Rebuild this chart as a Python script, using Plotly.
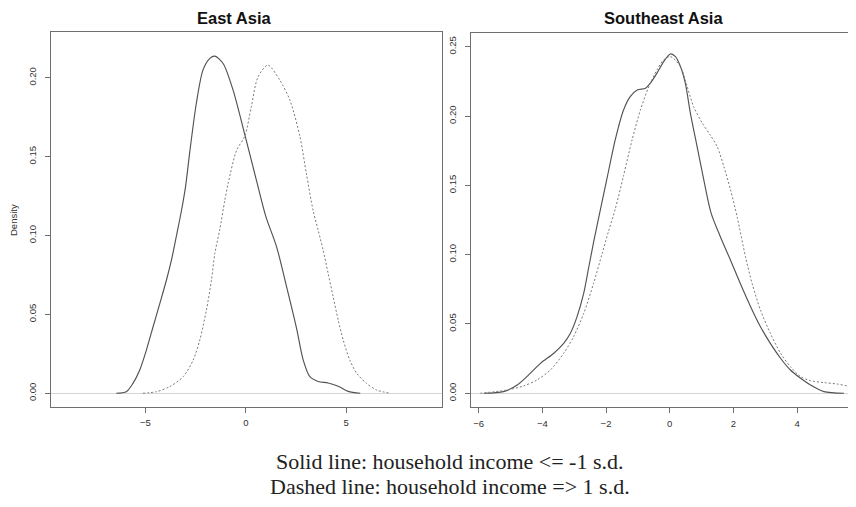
import plotly.graph_objects as go

# ---- East Asia: solid = household income <= -1 s.d., dashed = income => 1 s.d.
ea_low_x = [-6.45, -5.95, -5.62, -5.28, -4.95, -4.62, -4.28, -3.95, -3.70, -3.45, -3.20, -3.00,
            -2.79, -2.46, -2.13, -1.79, -1.54, -1.13, -0.63, -0.05, 0.53, 1.00, 1.53, 2.03,
            2.53, 2.86, 3.19, 3.60, 4.10, 4.60, 5.10, 5.70]
ea_low_y = [0.0, 0.001, 0.0063, 0.0148, 0.0274, 0.042, 0.057, 0.0718, 0.0845, 0.100, 0.116, 0.131,
            0.153, 0.184, 0.205, 0.2123, 0.2137, 0.209, 0.192, 0.164, 0.135, 0.112, 0.093, 0.0676,
            0.041, 0.021, 0.0105, 0.0075, 0.0065, 0.0045, 0.0012, 0.0]

ea_high_x = [-5.12, -4.45, -3.79, -3.12, -2.62, -2.29, -1.96, -1.71, -1.54, -1.30, -1.05, -0.88,
             -0.46, -0.05, 0.28, 0.61, 1.10, 1.69, 2.19, 2.69, 3.02, 3.35, 3.60, 3.85, 4.10,
             4.35, 4.60, 4.85, 5.18, 5.52, 6.01, 6.51, 7.20]
ea_high_y = [0.0, 0.001, 0.0042, 0.0105, 0.021, 0.0338, 0.0528, 0.0718, 0.0887, 0.1035, 0.122, 0.133,
             0.154, 0.163, 0.182, 0.2006, 0.208, 0.1985, 0.186, 0.163, 0.139, 0.116, 0.1035, 0.0908, 0.076,
             0.0612, 0.0464, 0.0338, 0.021, 0.0127, 0.0063, 0.0021, 0.0]

# ---- Southeast Asia
sea_low_x = [-5.84, -5.22, -4.79, -4.38, -4.06, -3.64, -3.33, -3.12, -2.91, -2.70, -2.54, -2.39,
             -2.20, -1.97, -1.71, -1.45, -1.24, -1.02, -0.76, -0.61, -0.40, -0.19, 0.02, 0.18,
             0.34, 0.49, 0.65, 0.86, 1.07, 1.30, 1.59, 1.91, 2.22, 2.54, 2.85, 3.16, 3.48,
             3.79, 4.11, 4.42, 4.84, 5.47]
sea_low_y = [0.0, 0.0012, 0.006, 0.0144, 0.0216, 0.0289, 0.036, 0.0433, 0.0553, 0.0722, 0.0913, 0.109,
             0.130, 0.155, 0.183, 0.2044, 0.214, 0.2188, 0.220, 0.2237, 0.231, 0.2393, 0.2448, 0.2429,
             0.2356, 0.2237, 0.202, 0.178, 0.154, 0.130, 0.113, 0.096, 0.079, 0.0625, 0.048, 0.036, 0.0253,
             0.0168, 0.0108, 0.006, 0.0012, 0.0]

sea_high_x = [-5.95, -5.11, -4.59, -4.17, -3.75, -3.33, -3.02, -2.70, -2.39, -2.12, -1.92, -1.71,
              -1.45, -1.18, -0.92, -0.66, -0.40, -0.19, 0.02, 0.34, 0.55, 0.75, 1.02, 1.28,
              1.49, 1.70, 1.91, 2.12, 2.38, 2.59, 2.85, 3.16, 3.48, 3.79, 4.11, 4.42, 4.84,
              5.26, 5.57, 5.90]
sea_high_y = [0.0, 0.0024, 0.0053, 0.0096, 0.0168, 0.0289, 0.0408, 0.0577, 0.0794, 0.101, 0.117, 0.133,
              0.157, 0.183, 0.2044, 0.221, 0.2333, 0.2405, 0.2429, 0.2356, 0.221, 0.2068, 0.195, 0.186,
              0.178, 0.1635, 0.1467, 0.127, 0.0985, 0.079, 0.060, 0.0433, 0.0289, 0.0192, 0.012, 0.0091, 0.0077,
              0.0067, 0.0053, 0.0032]

ea_xticks = [-5, 0, 5]
sea_xticks = [-6, -4, -2, 0, 2, 4]
ea_yticks = [0.0, 0.05, 0.10, 0.15, 0.20]
sea_yticks = [0.0, 0.05, 0.10, 0.15, 0.20, 0.25]

titles = ["East Asia", "Southeast Asia"]
caption_lines = ["Solid line: household income <= -1 s.d.",
                 "Dashed line: household income => 1 s.d."]

# page body has an 8px margin: the figure is drawn at (8, 8)
OFF = 8
W, H = 856 - OFF, 507 - OFF
SOLID = dict(color="#525252", width=1.15)
DASH = dict(color="#7a7a7a", width=1.0, dash="2px,2px")

fig = go.Figure()
fig.add_trace(go.Scatter(x=ea_low_x, y=ea_low_y, mode="lines", line=dict(**SOLID, shape="spline", smoothing=0.8),
                         xaxis="x", yaxis="y", showlegend=False))
fig.add_trace(go.Scatter(x=ea_high_x, y=ea_high_y, mode="lines", line=dict(**DASH, shape="spline", smoothing=0.8),
                         xaxis="x", yaxis="y", showlegend=False))
fig.add_trace(go.Scatter(x=sea_low_x, y=sea_low_y, mode="lines", line=dict(**SOLID, shape="spline", smoothing=0.8),
                         xaxis="x2", yaxis="y2", showlegend=False))
fig.add_trace(go.Scatter(x=sea_high_x, y=sea_high_y, mode="lines", line=dict(**DASH, shape="spline", smoothing=0.8),
                         xaxis="x2", yaxis="y2", showlegend=False))

def px_x(p):
    return (p - OFF) / W

def px_y(p):
    return (H - (p - OFF)) / H

tickfont = dict(family="Liberation Sans, Arial, sans-serif", size=9.5, color="#333")
axis_common = dict(showline=True, mirror=True, linecolor="#6e6e6e", linewidth=1,
                   showgrid=False, ticks="outside", ticklen=5, tickcolor="#6e6e6e",
                   tickfont=tickfont, automargin=False, fixedrange=True)

fig.update_layout(
    width=W, height=H,
    margin=dict(l=0, r=0, t=0, b=0),
    paper_bgcolor="white", plot_bgcolor="white",
    xaxis=dict(domain=[px_x(51), px_x(442)], range=[-9.7, 9.77], tickvals=ea_xticks,
               zeroline=False, anchor="y", ticklabelstandoff=2, **axis_common),
    yaxis=dict(domain=[px_y(407), px_y(32)], range=[-0.0087, 0.229], tickvals=ea_yticks,
               tickformat=".2f", tickangle=-90, zeroline=True, zerolinecolor="#d6d6d6",
               zerolinewidth=1, anchor="x", ticklabelstandoff=5, **axis_common),
    xaxis2=dict(domain=[px_x(470.7), 1.0], range=[-6.25, 5.85], tickvals=sea_xticks,
                zeroline=False, anchor="y2", ticklabelstandoff=2, **axis_common),
    yaxis2=dict(domain=[px_y(407.3), px_y(33.3)], range=[-0.0101, 0.2597], tickvals=sea_yticks,
                tickformat=".2f", tickangle=-90, zeroline=True, zerolinecolor="#d6d6d6",
                zerolinewidth=1, anchor="x2", ticklabelstandoff=5, **axis_common),
)

title_font = dict(family="Liberation Sans, Arial, sans-serif", size=16.5, color="#111")
fig.add_annotation(text="<b>" + titles[0] + "</b>", x=px_x(235), y=px_y(18.5), xref="paper", yref="paper",
                   showarrow=False, font=title_font, xanchor="center", yanchor="middle", borderpad=0)
fig.add_annotation(text="<b>" + titles[1] + "</b>", x=px_x(663), y=px_y(18.5), xref="paper", yref="paper",
                   showarrow=False, font=title_font, xanchor="center", yanchor="middle", borderpad=0)
fig.add_annotation(text="Density", x=px_x(13), y=px_y(220), xref="paper", yref="paper", textangle=-90,
                   showarrow=False, font=dict(family="Liberation Sans, Arial, sans-serif", size=9.5, color="#333"),
                   xanchor="center", yanchor="middle")

cap_font = dict(family="Liberation Serif, Times New Roman, serif", size=22, color="#222")
fig.add_annotation(text=caption_lines[0], x=px_x(449.7), y=px_y(461), xref="paper", yref="paper",
                   showarrow=False, font=cap_font, xanchor="center", yanchor="middle")
fig.add_annotation(text=caption_lines[1], x=px_x(449.7), y=px_y(486), xref="paper", yref="paper",
                   showarrow=False, font=cap_font, xanchor="center", yanchor="middle")

fig.write_html("out.html")
